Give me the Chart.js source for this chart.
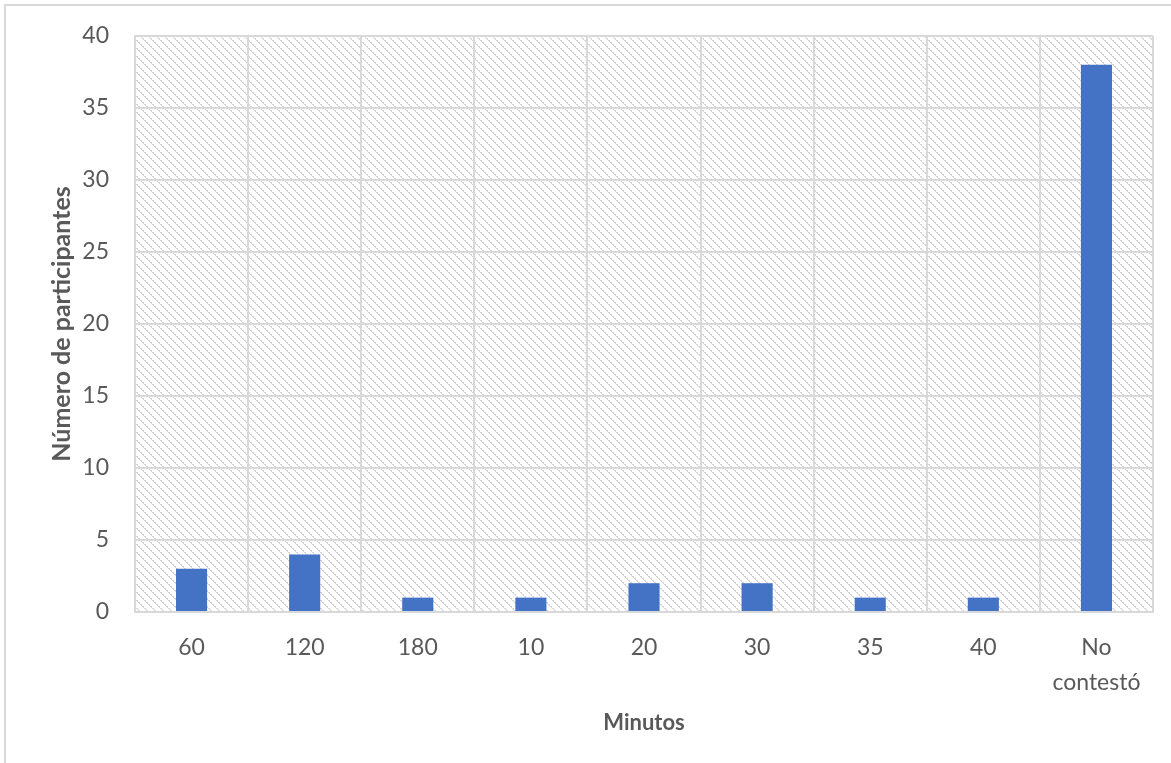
<!DOCTYPE html>
<html>
<head>
<meta charset="utf-8">
<script src="https://cdn.jsdelivr.net/npm/chart.js@4/dist/chart.umd.min.js"></script>
<style>
  html, body { margin: 0; padding: 0; background: #ffffff; }
  #wrap { width: 1171px; height: 763px; }
</style>
</head>
<body>
<div id="wrap"><canvas id="chart" width="1171" height="763"></canvas></div>
<script>
// Minutes reported by participants
const categories = ['60', '120', '180', '10', '20', '30', '35', '40', ['No', 'contestó']];
const participants = [3, 4, 1, 1, 2, 2, 1, 1, 38];
const yTicks = [0, 5, 10, 15, 20, 25, 30, 35, 40];

const GRID = '#d9d9d9';
const TEXT = '#595959';
const BAR = '#4472c4';

// Light downward diagonal hatch for the plot area
function makeHatch() {
  const c = document.createElement('canvas');
  c.width = 8; c.height = 8;
  const g = c.getContext('2d');
  g.fillStyle = '#ffffff';
  g.fillRect(0, 0, 8, 8);
  g.fillStyle = '#d6d6d6';
  for (let y = 0; y < 8; y++) {
    for (let x = 0; x < 8; x++) {
      const d = ((x - y) % 8 + 8) % 8;
      if (d === 0 || (d === 1 && (y % 2 === 0))) g.fillRect(x, y, 1, 1);
    }
  }
  return c;
}

const hatchPlugin = {
  id: 'hatch',
  beforeDraw(chart) {
    const { ctx, chartArea: a } = chart;
    ctx.save();
    ctx.fillStyle = ctx.createPattern(makeHatch(), 'repeat');
    ctx.fillRect(a.left, a.top, a.right - a.left, a.bottom - a.top);
    ctx.restore();
  }
};

const framePlugin = {
  id: 'frame',
  afterDraw(chart) {
    const ctx = chart.ctx;
    ctx.save();
    ctx.strokeStyle = GRID;
    ctx.lineWidth = 2;
    ctx.beginPath();
    ctx.moveTo(5, chart.height);
    ctx.lineTo(5, 5);
    ctx.lineTo(chart.width, 5);
    ctx.stroke();
    ctx.restore();
  }
};

new Chart(document.getElementById('chart'), {
  type: 'bar',
  data: {
    labels: categories,
    datasets: [{
      data: participants,
      backgroundColor: BAR,
      borderWidth: 0,
      categoryPercentage: 1,
      barPercentage: 0.275
    }]
  },
  options: {
    responsive: false,
    animation: false,
    devicePixelRatio: 1,
    layout: { padding: { top: 36, right: 18, left: 0, bottom: 0 } },
    plugins: {
      legend: { display: false },
      tooltip: { enabled: false }
    },
    scales: {
      x: {
        grid: { color: GRID, lineWidth: 2, drawTicks: false, offset: true },
        border: { color: GRID, width: 2 },
        ticks: {
          color: TEXT,
          font: { family: 'Lato', size: 23, lineHeight: 1.52 },
          padding: 18,
          maxRotation: 0,
          autoSkip: false
        },
        title: {
          display: true,
          text: 'Minutos',
          color: TEXT,
          font: { family: 'Lato', size: 22, weight: 'bold' },
          padding: { top: 0, bottom: 27 }
        },
        afterFit(scale) { scale.height = 151; }
      },
      y: {
        min: 0,
        max: 40,
        afterBuildTicks(scale) { scale.ticks = yTicks.map(v => ({ value: v })); },
        grid: { color: GRID, lineWidth: 2, drawTicks: false },
        border: { color: GRID, width: 2 },
        ticks: {
          color: TEXT,
          font: { family: 'Lato', size: 23 },
          padding: 26
        },
        title: {
          display: true,
          text: 'Número de participantes',
          color: TEXT,
          font: { family: 'Lato', size: 25, weight: 'bold' },
          padding: { top: 47, bottom: 0 }
        },
        afterFit(scale) {
          scale.width = 135;
          scale.paddingTop = 0;
          scale.paddingBottom = 0;
        }
      }
    }
  },
  plugins: [hatchPlugin, framePlugin]
});
</script>
</body>
</html>
